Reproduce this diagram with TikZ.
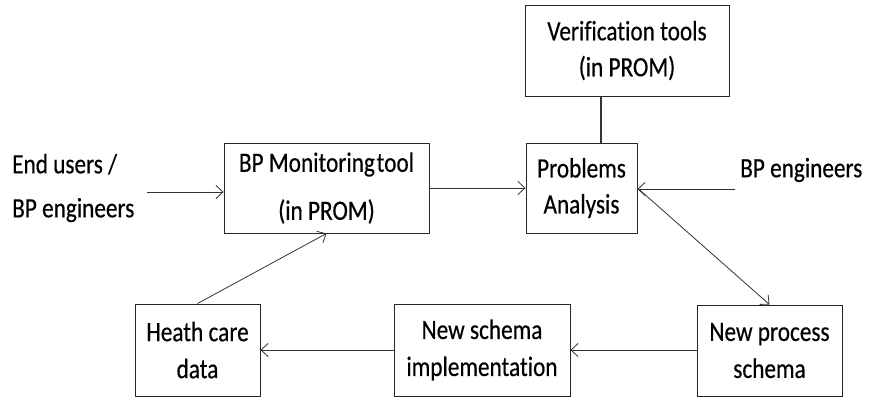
\documentclass[tikz,border=0pt]{standalone}
\usepackage{fontspec}
\setmainfont{Carlito}[FakeStretch=0.83, FakeBold=0.4, Ligatures=NoCommon]
\usetikzlibrary{arrows.meta}
\begin{document}
\begin{tikzpicture}[x=1pt,y=-1pt,
  box/.style={draw=black!85, line width=0.9pt, align=center, inner sep=0pt,
    font=\fontsize{28}{37}\selectfont},
  lbl/.style={align=left, inner sep=0pt, font=\fontsize{28}{37}\selectfont},
  arr/.style={draw=black!80, line width=0.8pt, -{Straight Barb[length=7pt,width=13pt]}},
  link/.style={draw=black!80, line width=2.2pt}]
\useasboundingbox (0,0) rectangle (869,397);

% process boxes
\node[box, minimum width=204pt, minimum height=91pt,
      font=\fontsize{28}{36}\selectfont] (ver) at (627,50.5) {Verification tools\\(in PROM)};
\node[box, minimum width=205pt, minimum height=90pt,
      font=\fontsize{28}{48}\selectfont] (mon) at (326.5,188) {BP Monitoring\hspace{-3.5pt} tool\\(in PROM)};
\node[box, minimum width=111pt, minimum height=90pt,
      font=\fontsize{28}{36}\selectfont] (prob) at (581.5,188) {Problems\\Analysis};
\node[box, minimum width=145pt, minimum height=91pt] (npro) at (769.5,350.5) {New process\\schema};
\node[box, minimum width=176pt, minimum height=92pt] (nsch) at (482,350) {New schema\\implementation};
\node[box, minimum width=125pt, minimum height=92pt] (heath) at (197.5,350) {Heath care\\data};

% free labels
\node[lbl, anchor=west, font=\fontsize{28}{44}\selectfont] (users) at (12,188) {End users /\\BP engineers};
\node[lbl, anchor=west] (bpe) at (740,170) {BP engineers};

% free ends of connectors
\coordinate (u1) at (147,192);
\coordinate (b1) at (735,189);
\coordinate (vx) at (601,0);

% connectors
\draw[arr] (u1) -- (mon.west |- u1);
\draw[arr] (mon.east) -- (prob.west);
\draw[arr] (b1) -- (prob.east |- b1);
\draw[arr] (prob.east) -- (npro.north);
\draw[arr] (npro.west |- nsch.east) -- (nsch.east);
\draw[arr] (nsch.west) -- (heath.east);
\draw[arr] (heath.north) -- (mon.south);
\draw[link] (ver.south -| vx) -- (prob.north -| vx);
\end{tikzpicture}
\end{document}
